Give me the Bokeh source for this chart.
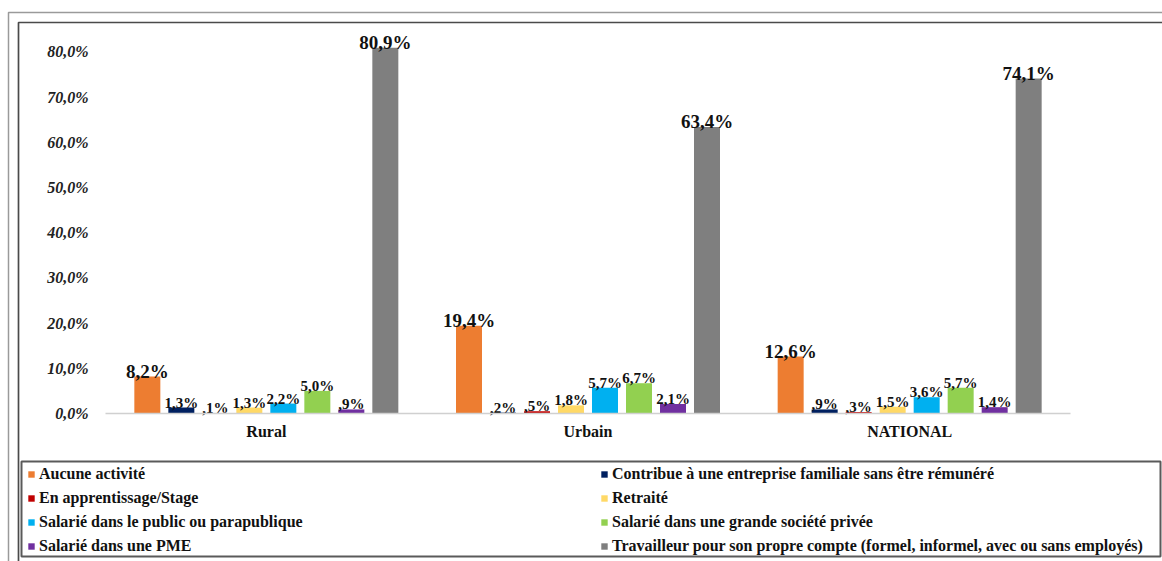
from bokeh.plotting import figure
from bokeh.models import (ColumnDataSource, Range1d, FixedTicker, Legend, LegendItem,
                          BoxAnnotation, LinearAxis)
from bokeh.transform import dodge
from bokeh.core.properties import value
from bokeh.embed import file_html
from bokeh.resources import INLINE

# ---- data ----
groups = ["Rural", "Urbain", "NATIONAL"]
series_names = [
    "Aucune activité",
    "Contribue à une entreprise familiale sans être rémunéré",
    "En apprentissage/Stage",
    "Retraité",
    "Salarié dans le public ou parapublique",
    "Salarié dans une grande société privée",
    "Salarié dans une PME",
    "Travailleur pour son propre compte (formel, informel, avec ou sans employés)",
]
aucune_activite = [8.2, 19.4, 12.6]
contribue_familiale = [1.3, 0.2, 0.9]
apprentissage_stage = [0.1, 0.5, 0.3]
retraite = [1.3, 1.8, 1.5]
salarie_public = [2.2, 5.7, 3.6]
salarie_grande = [5.0, 6.7, 5.7]
salarie_pme = [0.9, 2.1, 1.4]
propre_compte = [80.9, 63.4, 74.1]
series_values = [aucune_activite, contribue_familiale, apprentissage_stage, retraite,
                 salarie_public, salarie_grande, salarie_pme, propre_compte]
y_ticks = [0, 10, 20, 30, 40, 50, 60, 70, 80]

# ---- styles / layout ----
colors = ["#ED7D31", "#002060", "#C00000", "#FFD966", "#00B0F0", "#92D050", "#7030A0", "#7F7F7F"]
label_sizes = ["19px", "15px", "15px", "15px", "15px", "15px", "15px", "19px"]
SERIF = "Liberation Serif"
W, H = 1162, 561
PLOT_L, PLOT_R, ZERO_Y, PX_PER_PCT = 105, 1070, 413, 4.52
unit = (PLOT_R - PLOT_L) / len(groups)


def fmt(v):
    s = f"{v:.1f}".replace(".", ",")
    if s.startswith("0,"):
        s = s[1:]
    return s + "%"


group_pos = [i + 0.5 for i in range(len(groups))]

p = figure(width=W, height=H, output_backend="svg", toolbar_location=None,
           x_range=Range1d(-PLOT_L / unit, (W - PLOT_L) / unit),
           y_range=Range1d(-(H - ZERO_Y) / PX_PER_PCT, ZERO_Y / PX_PER_PCT),
           x_axis_location=None, y_axis_location=None)
p.min_border = 0
p.outline_line_color = None
p.xgrid.grid_line_color = None
p.ygrid.grid_line_color = None
p.background_fill_color = "white"
p.border_fill_color = "white"


def screen_box(left, top, right, bottom, color, width):
    # screen units are measured from the frame's bottom-left corner
    return BoxAnnotation(left=left, right=right, top=H - top, bottom=H - bottom,
                         left_units="screen", right_units="screen",
                         top_units="screen", bottom_units="screen",
                         fill_alpha=0, line_color=color, line_alpha=1.0,
                         line_width=width, level="underlay")


p.add_layout(screen_box(8, 12, W + 40, H + 40, "#9A9A9A", 1.5))
p.add_layout(screen_box(18, 22, W + 40, H + 40, "#4A4A4A", 1.7))
p.add_layout(screen_box(21, 461, 1160, 556, "#5A5A5A", 2))

step = 34 / unit
bar_w = 26 / unit
items = []
for i, (name, vals) in enumerate(zip(series_names, series_values)):
    src = ColumnDataSource(dict(x=group_pos, top=vals, label=[fmt(v) for v in vals]))
    off = (i - 3.5) * step
    r = p.vbar(x=dodge("x", off), top="top", width=bar_w, source=src,
               fill_color=colors[i], line_color=None)
    p.text(x=dodge("x", off), y="top", text="label", source=src,
           text_align="center", text_baseline="alphabetic", y_offset=-5,
           text_font=value(SERIF), text_font_style="bold", text_font_size=label_sizes[i],
           text_color="#111111")
    items.append(LegendItem(label=name, renderers=[r]))

# axes
xa = LinearAxis(fixed_location=0, bounds=(0, len(groups)),
                ticker=FixedTicker(ticks=group_pos),
                major_label_overrides={gp: g for gp, g in zip(group_pos, groups)})
xa.axis_line_color = "#D0D0D0"
xa.axis_line_width = 1.5
xa.major_tick_line_color = None
xa.minor_tick_line_color = None
xa.major_tick_out = 0
xa.major_tick_in = 0
xa.major_label_standoff = 9
xa.major_label_text_font = SERIF
xa.major_label_text_font_style = "bold"
xa.major_label_text_font_size = "16px"
xa.major_label_text_color = "#111111"
p.add_layout(xa, "below")

ya = LinearAxis(fixed_location=0, ticker=FixedTicker(ticks=y_ticks),
                major_label_overrides={t: f"{t:.1f}".replace(".", ",") + "%" for t in y_ticks})
ya.axis_line_color = None
ya.major_tick_line_color = None
ya.minor_tick_line_color = None
ya.major_tick_out = 0
ya.major_tick_in = 0
ya.major_label_standoff = 17
ya.major_label_text_font = SERIF
ya.major_label_text_font_style = "bold italic"
ya.major_label_text_font_size = "16px"
ya.major_label_text_color = "#222222"
p.add_layout(ya, "left")

legend = Legend(items=items, orientation="horizontal", ncols=2,
                location=(27, H - 465 - 90),
                glyph_width=8, glyph_height=8, label_standoff=4,
                label_width=555, label_height=18, spacing=6, padding=0, margin=0,
                label_text_font=SERIF, label_text_font_style="bold",
                label_text_font_size="16px", label_text_color="#111111",
                border_line_color=None, background_fill_alpha=0)
p.add_layout(legend, "center")

open("out.html", "w").write(file_html(p, INLINE))
